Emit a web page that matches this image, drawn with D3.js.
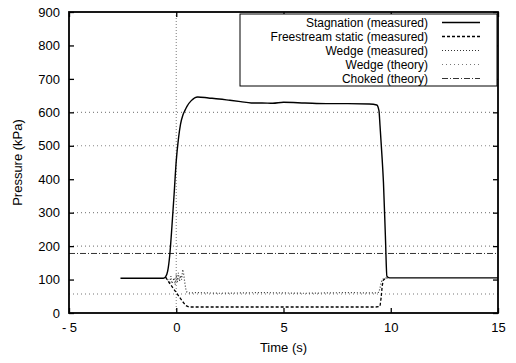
<!DOCTYPE html>
<html>
<head>
<meta charset="utf-8">
<script src="https://cdn.jsdelivr.net/npm/d3@7"></script>
<style>
  body { margin: 0; background: #fff; }
  text { font-family: "Liberation Sans", Arial, sans-serif; fill: #000; }
</style>
</head>
<body>
<svg id="chart" width="516" height="363"></svg>
<script>
// data
const xTicks = [-5, 0, 5, 10, 15];
const xTickLabels = ["- 5", "0", "5", "10", "15"];
const yTicks = [0, 100, 200, 300, 400, 500, 600, 700, 800, 900];

const stagT = [-2.6, -0.6, -0.5, -0.4, -0.3, -0.2, -0.1, 0, 0.1, 0.2, 0.3, 0.4, 0.5, 0.7, 1.0, 1.5, 2, 2.5, 3, 3.5, 4, 4.5, 5, 6, 7, 8, 9, 9.35, 9.45, 9.5, 9.6, 9.66, 9.75, 9.82, 9.9, 10, 15];
const stagV = [104, 104, 108, 125, 175, 260, 355, 455, 520, 565, 590, 605, 618, 635, 646, 643, 640, 636, 632, 628, 628, 627, 630, 628, 626, 626, 625, 622, 605, 560, 460, 390, 230, 110, 106, 105, 105];

const freeT = [-0.5, -0.3, -0.1, 0.1, 0.3, 0.45, 0.6, 2, 4, 6, 8, 9.3, 9.5, 9.55, 9.6, 9.65, 9.75, 9.85];
const freeV = [107, 88, 70, 52, 34, 22, 18, 18, 18, 18, 18, 18, 20, 45, 80, 98, 104, 105];

const wedgeT = [-0.5, -0.4, -0.3, -0.25, -0.2, -0.1, -0.05, 0, 0.05, 0.1, 0.15, 0.2, 0.25, 0.3, 0.35, 0.4, 0.45, 0.5, 0.6, 1, 2, 3, 4, 5, 6, 7, 8, 9, 9.3, 9.45, 9.5, 9.55, 9.6, 9.7, 9.8];
const wedgeV = [107, 100, 92, 110, 88, 105, 85, 115, 92, 120, 95, 112, 100, 130, 115, 90, 70, 62, 60, 61, 59, 60, 61, 60, 59, 60, 61, 60, 60, 62, 75, 90, 100, 104, 105];

const wedgeTheory = 57;
const chokedTheory = 178;
const refLevels = [600, 500, 300, 200];

const legendNames = ["Stagnation (measured)", "Freestream static (measured)", "Wedge (measured)", "Wedge (theory)", "Choked (theory)"];

const margin = {top: 12, right: 18, bottom: 50, left: 69};
const width = 516 - margin.left - margin.right,
      height = 363 - margin.top - margin.bottom;

const svg = d3.select("#chart");
const g = svg.append("g").attr("transform", "translate(" + margin.left + "," + margin.top + ")");

const x = d3.scaleLinear().domain([-5, 15]).range([0, width]);
const y = d3.scaleLinear().domain([0, 900]).range([height, 0]);

const styles = [
  {stroke: "#000", dash: null, w: 1.4},
  {stroke: "#000", dash: "3,2", w: 1.3},
  {stroke: "#333", dash: "1,2", w: 1.2},
  {stroke: "#777", dash: "1,3", w: 1.1},
  {stroke: "#333", dash: "6,2,1,2", w: 1.0}
];

// reference lines
refLevels.forEach(v => {
  g.append("line")
    .attr("x1", 0).attr("x2", width)
    .attr("y1", y(v)).attr("y2", y(v))
    .attr("stroke", "#888").attr("stroke-width", 1.1)
    .attr("stroke-dasharray", "1,3");
});
g.append("line")
  .attr("x1", x(0)).attr("x2", x(0))
  .attr("y1", 0).attr("y2", height)
  .attr("stroke", "#888").attr("stroke-width", 1.1)
  .attr("stroke-dasharray", "1,2");

// theory lines
g.append("line")
  .attr("x1", 0).attr("x2", width)
  .attr("y1", y(wedgeTheory)).attr("y2", y(wedgeTheory))
  .attr("stroke", styles[3].stroke).attr("stroke-width", styles[3].w)
  .attr("stroke-dasharray", styles[3].dash);
g.append("line")
  .attr("x1", 0).attr("x2", width)
  .attr("y1", y(chokedTheory)).attr("y2", y(chokedTheory))
  .attr("stroke", styles[4].stroke).attr("stroke-width", styles[4].w)
  .attr("stroke-dasharray", styles[4].dash);

function drawSeries(ts, vs, st, curve) {
  const data = ts.map((t, i) => ({t: t, v: vs[i]}));
  const line = d3.line()
    .x(d => x(d.t))
    .y(d => y(d.v))
    .curve(curve);
  g.append("path")
    .datum(data)
    .attr("fill", "none")
    .attr("stroke", st.stroke)
    .attr("stroke-width", st.w)
    .attr("stroke-dasharray", st.dash)
    .attr("d", line);
}

drawSeries(wedgeT, wedgeV, styles[2], d3.curveLinear);
drawSeries(freeT, freeV, styles[1], d3.curveLinear);
drawSeries(stagT, stagV, styles[0], d3.curveMonotoneX);

// axes with inward ticks on all sides
const xAxis = d3.axisBottom(x).tickValues(xTicks).tickSize(-5).tickPadding(10)
  .tickFormat((d, i) => xTickLabels[i]);
const yAxis = d3.axisLeft(y).tickValues(yTicks).tickSize(-5).tickPadding(9);

const gx = g.append("g").attr("transform", "translate(0," + height + ")").call(xAxis);
const gy = g.append("g").call(yAxis);
g.append("g").call(d3.axisTop(x).tickValues(xTicks).tickSize(-5).tickFormat(""));
g.append("g").attr("transform", "translate(" + width + ",0)")
  .call(d3.axisRight(y).tickValues(yTicks).tickSize(-5).tickFormat(""));

g.selectAll(".domain").remove();
g.selectAll(".tick line").attr("stroke", "#000").attr("stroke-width", 1.3);
gx.selectAll("text").style("font-size", "13px");
gy.selectAll("text").style("font-size", "13px");

g.append("rect")
  .attr("x", 0).attr("y", 0)
  .attr("width", width).attr("height", height)
  .attr("fill", "none").attr("stroke", "#000").attr("stroke-width", 1.8);

// legend
const lg = g.append("g");
lg.append("rect")
  .attr("x", 171).attr("y", 2)
  .attr("width", width - 171 - 1).attr("height", 72)
  .attr("fill", "#fff").attr("stroke", "#000").attr("stroke-width", 1);
legendNames.forEach((name, i) => {
  const yy = 10.5 + i * 14;
  lg.append("text")
    .attr("x", 359).attr("y", yy).attr("dy", "0.35em")
    .attr("text-anchor", "end")
    .style("font-size", "12px")
    .text(name);
  lg.append("line")
    .attr("x1", 373).attr("x2", 411)
    .attr("y1", yy).attr("y2", yy)
    .attr("stroke", styles[i].stroke)
    .attr("stroke-width", styles[i].w)
    .attr("stroke-dasharray", styles[i].dash);
});

// axis titles
svg.append("text")
  .attr("x", margin.left + x(5)).attr("y", 352)
  .attr("text-anchor", "middle")
  .style("font-size", "13px")
  .text("Time (s)");
svg.append("text")
  .attr("transform", "translate(22," + (margin.top + height / 2) + ") rotate(-90)")
  .attr("text-anchor", "middle")
  .style("font-size", "13px")
  .text("Pressure (kPa)");
</script>
</body>
</html>
